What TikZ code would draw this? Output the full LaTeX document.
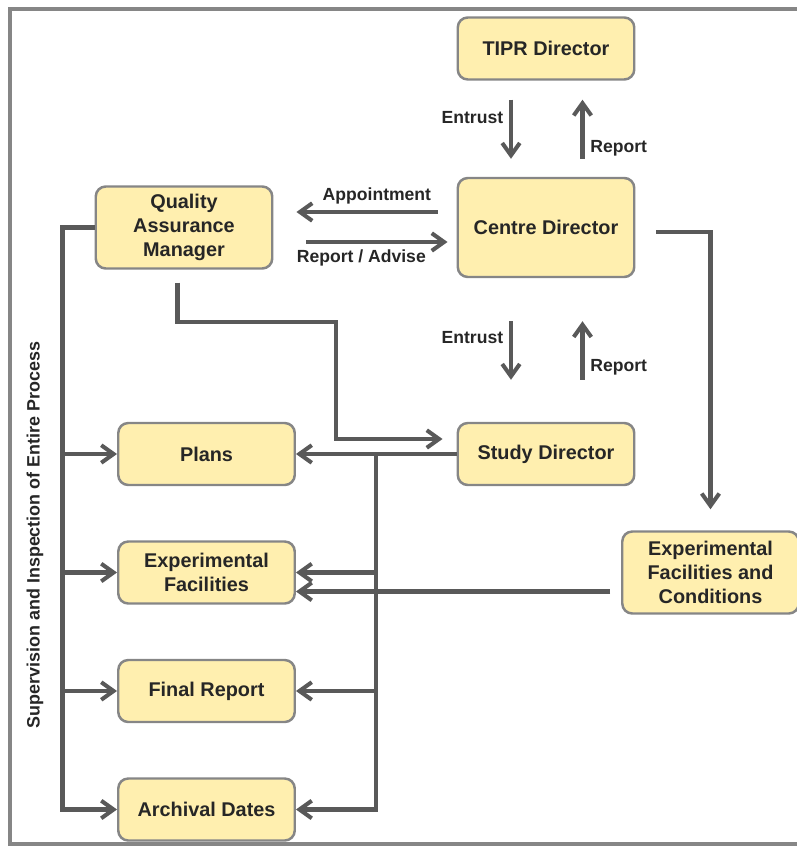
\documentclass[tikz,border=0pt]{standalone}
\usepackage{fontspec}
\setmainfont{Liberation Sans}
\usepackage{tikz}
\usetikzlibrary{arrows.meta,positioning}
\definecolor{boxfill}{HTML}{FFEFAF}
\definecolor{boxline}{HTML}{868686}
\definecolor{linegray}{HTML}{595959}
\definecolor{textgray}{HTML}{262626}
\tikzset{
  box/.style={draw=boxline,line width=1.4pt,fill=boxfill,rounded corners=0.2cm,
    minimum width=3.53cm,minimum height=1.24cm,align=center,text=textgray,
    font=\fontsize{11.3}{13.6}\selectfont\bfseries},
  tall/.style={minimum height=1.64cm},
  tip/.style={color=linegray,line width=2.3pt,-{Straight Barb[length=7pt,width=10pt]}},
  arr/.style={tip,draw},
  lbl/.style={text=textgray,font=\fontsize{10}{12}\selectfont\bfseries},
  outline/.style={draw=boxline,line width=2.3pt}
}

\begin{document}
\begin{tikzpicture}[node distance=2.37cm,on grid]
  \useasboundingbox (0,0) rectangle (15.94,-16.92);
  \draw[outline] (15.94,-0.18) -| (0.2,-16.88) -- (15.94,-16.88);

  \node[box] (tipr) at (10.92,-0.97) {TIPR Director};
  \node[box,minimum height=1.98cm] (centre) [below = 3.58cm of tipr] {Centre Director};
  \node[box,tall] (qam) [left = 7.24cm of centre] {Quality\\Assurance\\Manager};
  \node[box] (study) [below = 4.53cm of centre] {Study Director};
  \node[box] (plans) [left = 6.79cm of study] {Plans};
  \node[box] (expfac) [below = of plans] {Experimental\\Facilities};
  \node[box] (final) [below = of expfac] {Final Report};
  \node[box] (archive) [below = of final] {Archival Dates};
  \node[box,tall] (expcond) [right = 10.08cm of expfac] {Experimental\\Facilities and\\Conditions};

  \node[lbl,rotate=90,font=\fontsize{10.2}{12}\selectfont\bfseries] (superv) at (0.7,-10.7) {Supervision and Inspection of Entire Process};

  \path[tip]
  ([xshift=-0.7cm]tipr.south)
  edge [shorten <=0.38cm,shorten >=0.36cm] node [lbl,left,pos=0.38] {Entrust} ([xshift=-0.7cm]centre.north)
  ([xshift=0.73cm]centre.north)
  edge [shorten <=0.36cm,shorten >=0.38cm] node [lbl,right,pos=0.30] {Report} ([xshift=0.73cm]tipr.south)
  ([xshift=-0.7cm]centre.south)
  edge [shorten <=0.86cm,shorten >=0.84cm] node [lbl,left,pos=0.41] {Entrust} ([xshift=-0.7cm]study.north)
  ([xshift=0.73cm]study.north)
  edge [shorten <=0.84cm,shorten >=0.86cm] node [lbl,right,pos=0.38] {Report} ([xshift=0.73cm]centre.south)
  ([yshift=0.31cm]centre.west)
  edge [shorten <=0.38cm,shorten >=0.46cm] node [lbl,above,pos=0.435] {Appointment} ([yshift=0.31cm]qam.east)
  ([yshift=-0.29cm]qam.east)
  edge [shorten <=0.66cm,shorten >=0.18cm] node [lbl,below,pos=0.48] {Report / Advise} ([yshift=-0.29cm]centre.west)
  (study.west)
  edge [] (plans.east)
  ([yshift=-0.38cm]expcond.west)
  edge [shorten <=0.22cm] ([yshift=-0.38cm]expfac.east)
  ;

  \draw[arr,shorten <=0.42cm,shorten >=0.42cm] ([yshift=-0.09cm]centre.east) -| (expcond.north);
  \draw[arr] ([xshift=-0.13cm,yshift=-0.26cm]qam.south) -- ++(0,-0.78)
    -| ([xshift=-2.42cm,yshift=0.3cm]study.west) -- ([xshift=-0.28cm,yshift=0.3cm]study.west);

  \draw[arr] (qam.west) -- ++(-0.64,0) coordinate (spine) |- (archive.west);
  \foreach \n in {plans,expfac,final}
    \draw[arr] (spine |- \n.west) -- (\n.west);

  \draw[arr] ([xshift=-1.62cm]study.west) coordinate (bus) |- (archive.east);
  \foreach \n in {expfac,final}
    \draw[arr] (bus |- \n.east) -- (\n.east);
\end{tikzpicture}
\end{document}
